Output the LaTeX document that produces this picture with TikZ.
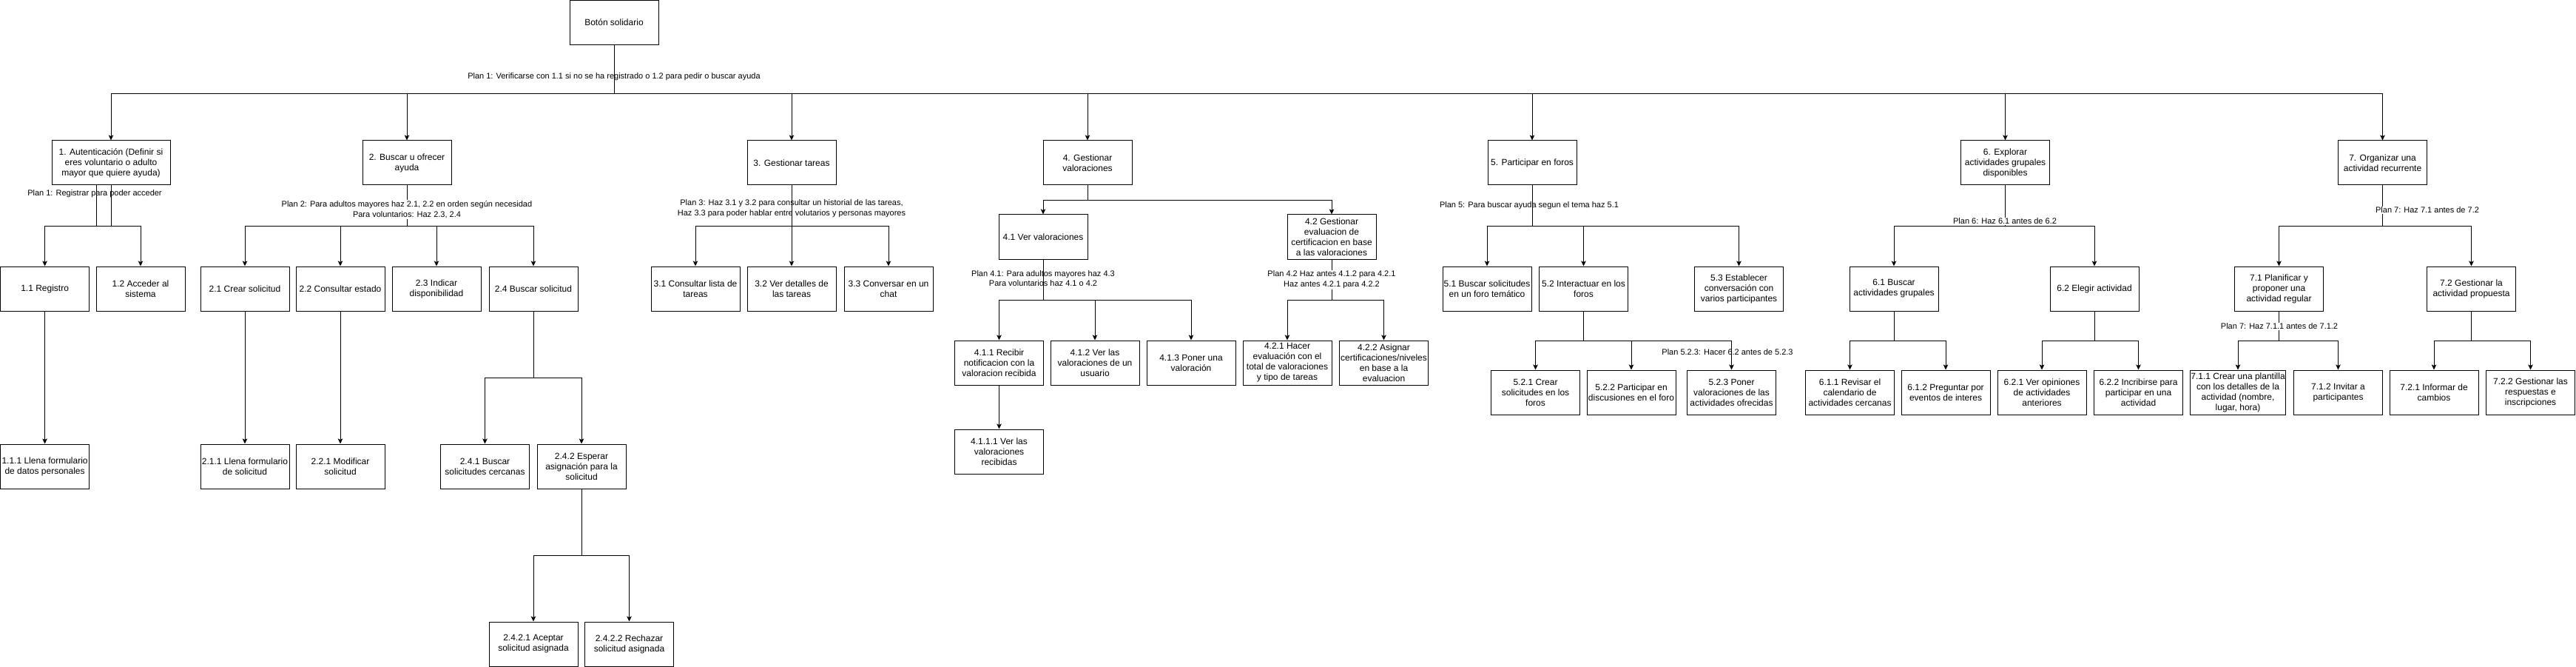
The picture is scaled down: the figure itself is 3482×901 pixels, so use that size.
\documentclass[tikz,border=0pt]{standalone}
\usepackage{fontspec}
\setmainfont{Liberation Sans}
\usetikzlibrary{arrows.meta}
\begin{document}
\begin{tikzpicture}[x=1pt,y=-1pt,
  box/.style={draw, line width=1pt, minimum width=120pt, minimum height=60pt, inner sep=1pt, align=center, font=\fontsize{12}{14}\selectfont},
  plan/.style={inner sep=1pt, align=center, font=\fontsize{11}{13.8}\selectfont},
  planbg/.style={plan, fill=white},
  conn/.style={line width=0.9pt, -{Stealth[length=7pt,width=6.5pt,inset=1.5pt]}},
  link/.style={line width=0.9pt}]
\fill[white] (0,0) rectangle (3482,901);
\useasboundingbox (0,0) rectangle (3482,901);

% root
\node[box] (n0) at (830,30.6) {Botón solidario};

% level 1
\node[box, minimum width=160pt] (n1) at (150,220) {1. Autenticación (Definir si\\eres voluntario o adulto\\mayor que quiere ayuda)};
\node[box] (n2) at (550,220) {2. Buscar u ofrecer\\ayuda};
\node[box] (n3) at (1070,220) {3. Gestionar tareas};
\node[box] (n4) at (1470,220) {4. Gestionar\\valoraciones};
\node[box] (n5) at (2071,220) {5. Participar en foros};
\node[box] (n6) at (2710.5,220) {6. Explorar\\actividades grupales\\disponibles};
\node[box] (n7) at (3220.5,220) {7. Organizar una\\actividad recurrente};

% level 2
\node[box] (n11) at (60.6,390) {1.1 Registro};
\node[box] (n12) at (190,390) {1.2 Acceder al\\sistema};
\node[box] (n21) at (331,390) {2.1 Crear solicitud};
\node[box] (n22) at (460,390) {2.2 Consultar estado};
\node[box] (n23) at (590,390) {2.3 Indicar\\disponibilidad};
\node[box] (n24) at (721,390) {2.4 Buscar solicitud};
\node[box] (n31) at (940,390) {3.1 Consultar lista de\\tareas};
\node[box] (n32) at (1070,390) {3.2 Ver detalles de\\las tareas};
\node[box] (n33) at (1201,390) {3.3 Conversar en un\\chat};
\node[box] (n41) at (1410,320) {4.1 Ver valoraciones};
\node[box] (n42) at (1800,320) {4.2 Gestionar\\evaluacion de\\certificacion en base\\a las valoraciones};
\node[box] (n51) at (2010,390) {5.1 Buscar solicitudes\\en un foro temático};
\node[box] (n52) at (2140.5,390) {5.2 Interactuar en los\\foros};
\node[box] (n53) at (2350.5,390) {5.3 Establecer\\conversación con\\varios participantes};
\node[box] (n61) at (2560,390) {6.1 Buscar\\actividades grupales};
\node[box] (n62) at (2831,390) {6.2 Elegir actividad};
\node[box] (n71) at (3080.5,390) {7.1 Planificar y\\proponer una\\actividad regular};
\node[box] (n72) at (3340.5,390) {7.2 Gestionar la\\actividad propuesta};

% level 3
\node[box] (n111) at (60.6,630) {1.1.1 Llena formulario\\de datos personales};
\node[box] (n211) at (331,630) {2.1.1 Llena formulario\\de solicitud};
\node[box] (n221) at (460,630) {2.2.1 Modificar\\solicitud};
\node[box] (n241) at (655.5,630) {2.4.1 Buscar\\solicitudes cercanas};
\node[box] (n242) at (786,630) {2.4.2 Esperar\\asignación para la\\solicitud};
\node[box] (n411) at (1350.5,490) {4.1.1 Recibir\\notificacion con la\\valoracion recibida};
\node[box] (n412) at (1480,490) {4.1.2 Ver las\\valoraciones de un\\usuario};
\node[box] (n413) at (1610,490) {4.1.3 Poner una\\valoración};
\node[box] (n421) at (1740,490) {4.2.1 Hacer\\evaluación con el\\total de valoraciones\\y tipo de tareas};
\node[box] (n422) at (1870.5,490) {4.2.2 Asignar\\certificaciones/niveles\\en base a la\\evaluacion};
\node[box] (n521) at (2075.5,530) {5.2.1 Crear\\solicitudes en los\\foros};
\node[box] (n522) at (2205,530) {5.2.2 Participar en\\discusiones en el foro};
\node[box] (n523) at (2340.5,530) {5.2.3 Poner\\valoraciones de las\\actividades ofrecidas};
\node[box] (n611) at (2500.5,530) {6.1.1 Revisar el\\calendario de\\actividades cercanas};
\node[box] (n612) at (2630,530) {6.1.2 Preguntar por\\eventos de interes};
\node[box] (n621) at (2760,530) {6.2.1 Ver opiniones\\de actividades\\anteriores};
\node[box] (n622) at (2890.5,530) {6.2.2 Incribirse para\\participar en una\\actividad};
\node[box, minimum width=128pt] (n711) at (3025,530) {7.1.1 Crear una plantilla\\con los detalles de la\\actividad (nombre,\\lugar, hora)};
\node[box] (n712) at (3160.5,530) {7.1.2 Invitar a\\participantes};
\node[box] (n721) at (3290,530) {7.2.1 Informar de\\cambios};
\node[box] (n722) at (3420.5,530) {7.2.2 Gestionar las\\respuestas e\\inscripciones};

% level 4
\node[box] (n2421) at (721,870) {2.4.2.1 Aceptar\\solicitud asignada};
\node[box] (n2422) at (850.5,870) {2.4.2.2 Rechazar\\solicitud asignada};
\node[box] (n4111) at (1350.5,610) {4.1.1.1 Ver las\\valoraciones\\recibidas};

% connectors root
\foreach \c in {n1,n2,n3,n4,n5,n6,n7}
  \draw[conn] (n0.south) -- ++(0,65) -| (\c.north);

% 1
\draw[conn] ([xshift=-20pt]n1.south) -- ++(0,55) -| (n12.north);
\draw[conn] (n1.south) -- ++(0,55) -| (n11.north);
\draw[conn] (n11) -- (n111);

% 2
\foreach \c in {n21,n22,n23,n24}
  \draw[conn] (n2.south) -- ++(0,55) -| (\c.north);
\draw[conn] (n21) -- (n211);
\draw[conn] (n22) -- (n221);
\foreach \c in {n241,n242}
  \draw[conn] (n24.south) -- ++(0,90) -| (\c.north);
\foreach \c in {n2421,n2422}
  \draw[conn] (n242.south) -- ++(0,90) -| (\c.north);

% 3
\foreach \c in {n31,n32,n33}
  \draw[conn] (n3.south) -- ++(0,55) -| (\c.north);

% 4
\foreach \c in {n41,n42}
  \draw[conn] (n4.south) -- ++(0,20) -| (\c.north);
\foreach \c in {n411,n412,n413}
  \draw[conn] (n41.south) -- ++(0,55) -| (\c.north);
\foreach \c in {n421,n422}
  \draw[conn] (n42.south) -- ++(0,55) -| (\c.north);
\draw[conn] (n411) -- (n4111);

% 5
\foreach \c in {n51,n52,n53}
  \draw[conn] (n5.south) -- ++(0,55) -| (\c.north);
\foreach \c in {n521,n522,n523}
  \draw[conn] (n52.south) -- ++(0,40) -| (\c.north);

% 6
\foreach \c in {n61,n62}
  \draw[conn] (n6.south) -- ++(0,55) -| (\c.north);
\foreach \c in {n611,n612}
  \draw[conn] (n61.south) -- ++(0,40) -| (\c.north);
\foreach \c in {n621,n622}
  \draw[conn] (n62.south) -- ++(0,40) -| (\c.north);

% 7
\foreach \c in {n71,n72}
  \draw[conn] (n7.south) -- ++(0,55) -| (\c.north);
\foreach \c in {n711,n712}
  \draw[conn] (n71.south) -- ++(0,40) -| (\c.north);
\foreach \c in {n721,n722}
  \draw[conn] (n72.south) -- ++(0,40) -| (\c.north);

% plan labels
\node[plan] (p1) at (830,104) {Plan 1: Verificarse con 1.1 si no se ha registrado o 1.2 para pedir o buscar ayuda};
\node[plan] (p11) at (128,262) {Plan 1: Registrar para poder acceder};
\node[planbg] (p2) at (550,283) {Plan 2: Para adultos mayores haz 2.1, 2.2 en orden según necesidad\\Para voluntarios: Haz 2.3, 2.4};
\node[plan] (p3) at (1070,282) {Plan 3: Haz 3.1 y 3.2 para consultar un historial de las tareas,\\Haz 3.3 para poder hablar entre volutarios y personas mayores};
\node[plan] (p41) at (1410,376) {Plan 4.1: Para adultos mayores haz 4.3\\Para voluntarios haz 4.1 o 4.2};
\node[planbg] (p42) at (1800,378) {Plan 4.2 Haz antes 4.1.2 para 4.2.1\\Haz antes 4.2.1 para 4.2.2};
\node[plan] (p5) at (2067,278) {Plan 5: Para buscar ayuda segun el tema haz 5.1};
\node[plan] (p523) at (2335,476) {Plan 5.2.3: Hacer 6.2 antes de 5.2.3};
\node[planbg] (p6) at (2710,299) {Plan 6: Haz 6.1 antes de 6.2};
\node[planbg] (p7) at (3281,284) {Plan 7: Haz 7.1 antes de 7.2};
\node[planbg] (p71) at (3081,441) {Plan 7: Haz 7.1.1 antes de 7.1.2};
\end{tikzpicture}
\end{document}
